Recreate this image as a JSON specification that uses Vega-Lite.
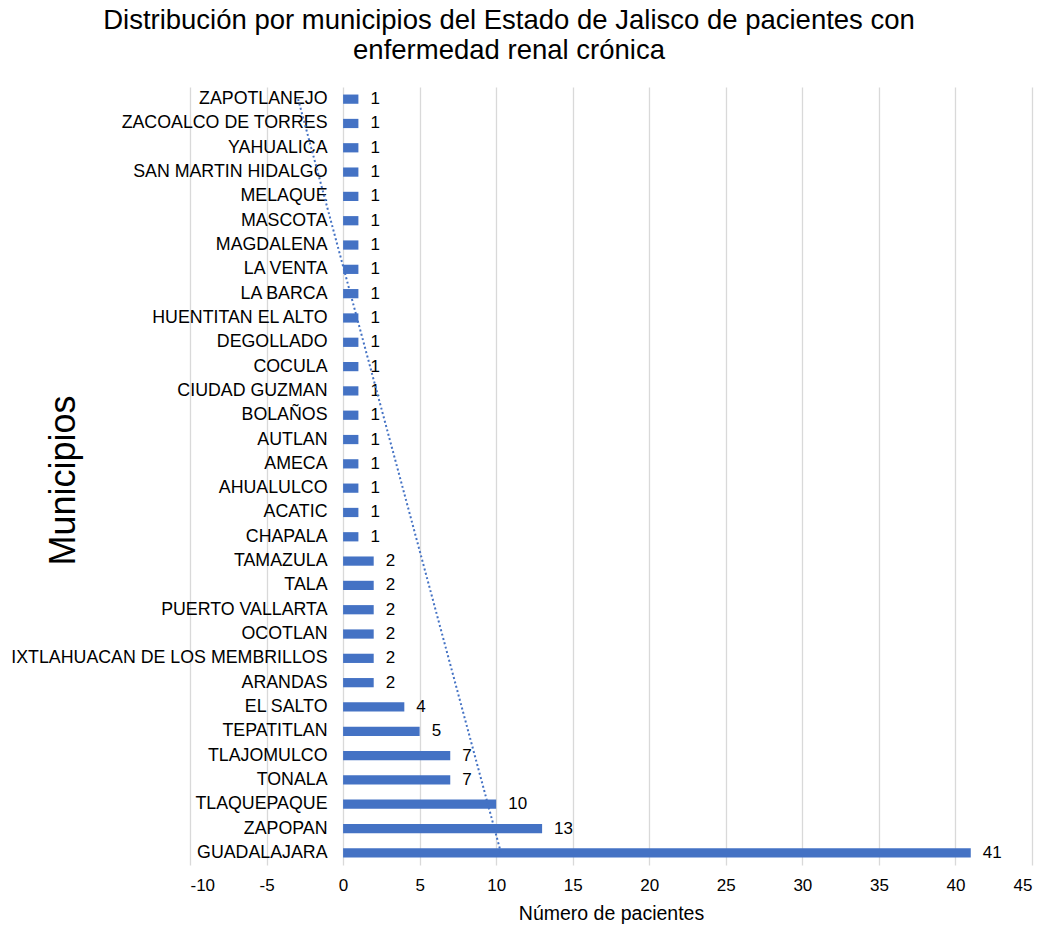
{
  "$schema": "https://vega.github.io/schema/vega-lite/v6.json",
  "width": 842,
  "height": 778,
  "autosize": "none",
  "padding": {"left": 190, "top": 87, "right": 12, "bottom": 61},
  "background": "white",
  "config": {
    "font": "Liberation Sans",
    "view": {"stroke": null}
  },
  "title": {
    "text": ["Distribución por municipios del Estado de Jalisco de pacientes con", "enfermedad renal crónica"],
    "fontSize": 27.5,
    "fontWeight": "normal",
    "color": "#000000",
    "anchor": "middle",
    "frame": "group",
    "dx": -102,
    "offset": 23,
    "lineHeight": 30
  },
  "data": {
    "values": [
      {"municipio": "ZAPOTLANEJO", "pacientes": 1},
      {"municipio": "ZACOALCO DE TORRES", "pacientes": 1},
      {"municipio": "YAHUALICA", "pacientes": 1},
      {"municipio": "SAN MARTIN HIDALGO", "pacientes": 1},
      {"municipio": "MELAQUE", "pacientes": 1},
      {"municipio": "MASCOTA", "pacientes": 1},
      {"municipio": "MAGDALENA", "pacientes": 1},
      {"municipio": "LA VENTA", "pacientes": 1},
      {"municipio": "LA BARCA", "pacientes": 1},
      {"municipio": "HUENTITAN EL ALTO", "pacientes": 1},
      {"municipio": "DEGOLLADO", "pacientes": 1},
      {"municipio": "COCULA", "pacientes": 1},
      {"municipio": "CIUDAD GUZMAN", "pacientes": 1},
      {"municipio": "BOLAÑOS", "pacientes": 1},
      {"municipio": "AUTLAN", "pacientes": 1},
      {"municipio": "AMECA", "pacientes": 1},
      {"municipio": "AHUALULCO", "pacientes": 1},
      {"municipio": "ACATIC", "pacientes": 1},
      {"municipio": "CHAPALA", "pacientes": 1},
      {"municipio": "TAMAZULA", "pacientes": 2},
      {"municipio": "TALA", "pacientes": 2},
      {"municipio": "PUERTO VALLARTA", "pacientes": 2},
      {"municipio": "OCOTLAN", "pacientes": 2},
      {"municipio": "IXTLAHUACAN DE LOS MEMBRILLOS", "pacientes": 2},
      {"municipio": "ARANDAS", "pacientes": 2},
      {"municipio": "EL SALTO", "pacientes": 4},
      {"municipio": "TEPATITLAN", "pacientes": 5},
      {"municipio": "TLAJOMULCO", "pacientes": 7},
      {"municipio": "TONALA", "pacientes": 7},
      {"municipio": "TLAQUEPAQUE", "pacientes": 10},
      {"municipio": "ZAPOPAN", "pacientes": 13},
      {"municipio": "GUADALAJARA", "pacientes": 41}
    ]
  },
  "layer": [
    {
      "encoding": {
        "y": {
          "field": "municipio",
          "type": "nominal",
          "sort": null,
          "scale": {"type": "band", "paddingInner": 0.62, "paddingOuter": 0.31},
          "axis": {
            "offset": -153,
            "domain": false,
            "ticks": false,
            "grid": false,
            "labelPadding": 16,
            "labelFontSize": 17.8,
            "labelColor": "#000000",
            "labelLimit": 400,
            "title": "Municipios",
            "titleFontSize": 36,
            "titleFontWeight": "normal",
            "titleColor": "#000000",
            "titleAngle": -90,
            "titleAlign": "center",
            "titleBaseline": "middle",
            "titleX": -280,
            "titleY": 393
          }
        },
        "x": {
          "field": "pacientes",
          "type": "quantitative",
          "scale": {"domain": [-10, 45], "nice": false},
          "axis": {
            "values": [-10, -5, 0, 5, 10, 15, 20, 25, 30, 35, 40, 45],
            "labelExpr": "'' + datum.value",
            "domain": false,
            "ticks": false,
            "grid": true,
            "gridColor": "#d9d9d9",
            "gridWidth": 1.3,
            "labelPadding": 12,
            "labelFontSize": 17,
            "labelColor": "#000000",
            "title": "Número de pacientes",
            "titleFontSize": 19.5,
            "titleFontWeight": "normal",
            "titleColor": "#000000",
            "titlePadding": 11
          }
        }
      },
      "layer": [
        {"mark": {"type": "bar", "color": "#4472C4"}},
        {
          "mark": {"type": "text", "align": "left", "baseline": "middle", "dx": 12, "fontSize": 17, "color": "#000000"},
          "encoding": {"text": {"field": "pacientes", "type": "quantitative"}}
        }
      ]
    },
    {
      "transform": [
        {"window": [{"op": "row_number", "as": "idx"}]},
        {"regression": "pacientes", "on": "idx", "extent": [1, 32]}
      ],
      "mark": {"type": "line", "color": "#4472C4", "strokeWidth": 2, "strokeDash": [2, 2.5]},
      "encoding": {
        "y": {
          "field": "idx",
          "type": "quantitative",
          "scale": {"domain": [0.5, 32.5], "reverse": true, "nice": false, "zero": false},
          "axis": null
        },
        "x": {"field": "pacientes", "type": "quantitative"}
      }
    }
  ],
  "resolve": {"scale": {"y": "independent"}, "axis": {"y": "independent"}}
}
